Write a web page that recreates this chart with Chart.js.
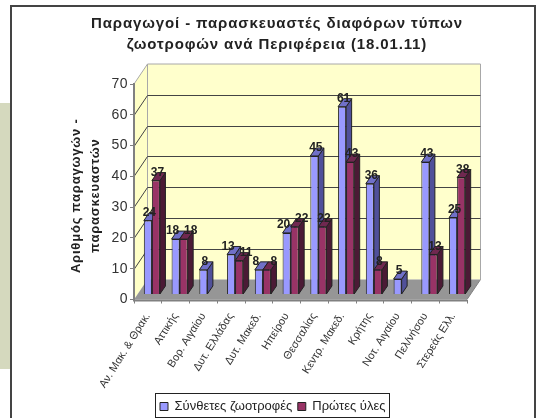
<!DOCTYPE html>
<html><head><meta charset="utf-8">
<style>
html,body{margin:0;padding:0;background:#fff;overflow:hidden}
#olive{position:absolute;left:0;top:103px;width:10px;height:266px;background:#D5D9BE}
#frame{position:absolute;left:10px;top:5px;width:522px;height:420px;border:2px solid #444;box-sizing:content-box}
#wrap{position:absolute;left:0;top:0;width:536px;height:418px}
</style>
<script src="https://cdn.jsdelivr.net/npm/chart.js@4"></script>
</head><body>
<div id="olive"></div><div id="frame"></div>
<div id="wrap"><canvas id="c" width="536" height="418"></canvas></div>
<script>
const categories=["Αν. Μακ. & Θρακ.","Αττικής","Βορ. Αιγαίου","Δυτ. Ελλάδας","Δυτ. Μακεδ.","Ηπείρου","Θεσσαλίας","Κεντρ. Μακεδ.","Κρήτης","Νοτ. Αιγαίου","Πελ/νήσου","Στερεάς Ελλ."];
const compound=[24,18,8,13,8,20,45,61,36,5,43,25];
const rawMaterials=[37,18,null,11,8,22,22,43,8,null,13,38];
const seriesNames=["Σύνθετες ζωοτροφές","Πρώτες ύλες"];
const titleLines=["Παραγωγοί - παρασκευαστές διαφόρων τύπων","ζωοτροφών ανά Περιφέρεια (18.01.11)"];
const axisTitleLines=["Αριθμός παραγωγών -","παρασκευαστών"];
const FONT='"Liberation Sans", Arial, sans-serif';
const WALL={dx:13.5,dy:-20}, BAR_SHIFT={dx:4,dy:-5}, BAR_DEPTH={dx:5.5,dy:-8};
const FACES=[{side:'#50509A',top:'#7070C8'},{side:'#4B1A35',top:'#702850'}];
function poly(ctx,pts,fill,stroke,lw){ctx.beginPath();pts.forEach((p,i)=>i?ctx.lineTo(p[0],p[1]):ctx.moveTo(p[0],p[1]));ctx.closePath();
 if(fill){ctx.fillStyle=fill;ctx.fill();} if(stroke){ctx.strokeStyle=stroke;ctx.lineWidth=lw||1;ctx.stroke();}}
function spaced(chart,obj,method,ls,tx,ty){
 const orig=obj[method];
 obj[method]=function(){const c=chart.ctx;c.save();c.letterSpacing=ls+'px';c.translate(tx||0,ty||0);orig.apply(this,arguments);c.restore();};
}
function faces(chart,idx){
 const ctx=chart.ctx,f=FACES[idx],d=BAR_DEPTH;
 chart.getDatasetMeta(idx).data.forEach((b,i)=>{
  const v=chart.data.datasets[idx].data[i]; if(v==null) return;
  const l=b.x-b.width/2,r=b.x+b.width/2;
  poly(ctx,[[r,b.y],[r+d.dx,b.y+d.dy],[r+d.dx,b.base+d.dy],[r,b.base]],f.side,'#222',1);
  poly(ctx,[[l,b.y],[l+d.dx,b.y+d.dy],[r+d.dx,b.y+d.dy],[r,b.y]],f.top,'#222',1);
 });
}
const scene={id:'scene',
 beforeLayout(chart){
  if(!chart.$w){chart.legend.afterFit=function(){this.height=26;};}
 },
 afterLayout(chart){
  chart.titleBlock.left=0;chart.titleBlock.right=554;
  chart.legend.left=154.5;chart.legend.right=544;chart.legend.top=394.5;chart.legend.bottom=420.5;
  if(!chart.$w){chart.$w=true;
   spaced(chart,chart.titleBlock,'draw',0.87);
   spaced(chart,chart.scales.y,'drawTitle',0.8,0,4);
   spaced(chart,chart.scales.y,'drawLabels',0.5);
  }
 },
 beforeDatasetsDraw(chart){
  const {ctx,chartArea:a,scales:{y}}=chart,dx=WALL.dx,dy=WALL.dy;
  ctx.save();
  poly(ctx,[[a.left,a.top],[a.left+dx,a.top+dy],[a.left+dx,a.bottom+dy],[a.left,a.bottom]],'#FFFFC6');
  poly(ctx,[[a.left+dx,a.top+dy],[a.right+dx,a.top+dy],[a.right+dx,a.bottom+dy],[a.left+dx,a.bottom+dy]],'#FFFFCC');
  poly(ctx,[[a.left,a.bottom],[a.left+dx,a.bottom+dy],[a.right+dx,a.bottom+dy],[a.right,a.bottom]],'#969696');
  ctx.strokeStyle='#A8A8A8';ctx.lineWidth=1;ctx.beginPath();
  ctx.moveTo(a.left,a.top);ctx.lineTo(a.left+dx,a.top+dy);ctx.lineTo(a.right+dx,a.top+dy);ctx.lineTo(a.right+dx,a.bottom+dy);
  ctx.moveTo(a.left+dx,a.top+dy);ctx.lineTo(a.left+dx,a.bottom+dy);ctx.stroke();
  y.ticks.forEach(t=>{ if(t.value===0||t.value===y.max) return; const py=Math.round(y.getPixelForValue(t.value))+.5;
   ctx.strokeStyle='#444';ctx.lineWidth=1;ctx.beginPath();ctx.moveTo(a.left,py);ctx.lineTo(a.left+dx,py+dy);ctx.lineTo(a.right+dx,py+dy);ctx.stroke();});
  ctx.restore();
  ctx.save();ctx.translate(BAR_SHIFT.dx,BAR_SHIFT.dy);
 },
 beforeDatasetDraw(chart,args){
  if(args.index===1) return false;
  faces(chart,0);
 },
 afterDatasetDraw(chart,args){
  if(args.index!==0) return;
  faces(chart,1);
  chart.getDatasetMeta(1).data.forEach((b,i)=>{ if(chart.data.datasets[1].data[i]!=null) b.draw(chart.ctx); });
 },
 afterDatasetsDraw(chart){
  const ctx=chart.ctx;
  ctx.font='bold 12px '+FONT;ctx.fillStyle='#222';ctx.textAlign='center';ctx.textBaseline='middle';
  [0,1].forEach(k=>{
   chart.getDatasetMeta(k).data.forEach((b,i)=>{
    const v=chart.data.datasets[k].data[i]; if(v==null) return;
    const o=chart.data.datasets[1-k].data[i];
    const close=o!=null&&Math.abs(o-v)<=2;
    const sh=close?(k===0?-3:7):1.5;
    ctx.fillText(String(v),b.x+sh,b.y-8);
   });
  });
  ctx.restore();
  ctx.save();
  const a=chart.chartArea;
  ctx.strokeStyle='#808080';ctx.lineWidth=2;ctx.beginPath();ctx.moveTo(a.left,a.top-1);ctx.lineTo(a.left,a.bottom+1);ctx.lineTo(a.right,a.bottom+1);ctx.stroke();
  ctx.lineWidth=1;ctx.beginPath();ctx.moveTo(a.right,a.bottom);ctx.lineTo(a.right+WALL.dx,a.bottom+WALL.dy);ctx.stroke();
  ctx.restore();
 },
 afterDraw(chart){
  const ctx=chart.ctx;
  ctx.save();ctx.strokeStyle='#222';ctx.lineWidth=1;
  ctx.strokeRect(155.5,393.5,234,24);
  ctx.restore();
 }
};
new Chart(document.getElementById('c'),{
 type:'bar',
 data:{labels:categories,datasets:[
  {label:seriesNames[0],data:compound,backgroundColor:'#9999FF',borderColor:'#222',borderWidth:1,clip:false},
  {label:seriesNames[1],data:rawMaterials,backgroundColor:'#993366',borderColor:'#222',borderWidth:1,clip:false}
 ]},
 plugins:[scene],
 options:{responsive:false,animation:false,
  layout:{padding:{left:67,right:69,top:13,bottom:0}},
  datasets:{bar:{barPercentage:1,categoryPercentage:0.58}},
  plugins:{
   tooltip:{enabled:false},
   title:{display:true,text:titleLines,color:'#222',font:{family:FONT,size:15,weight:'bold',lineHeight:1.4},padding:{top:0,bottom:29}},
   legend:{display:true,position:'bottom',align:'start',labels:{color:'#222',font:{family:FONT,size:13},boxWidth:8,boxHeight:8,padding:5.5}}
  },
  scales:{
   x:{grid:{display:true,drawOnChartArea:false,drawTicks:true,tickLength:4,color:'#808080',offset:true},border:{display:false},
      ticks:{color:'#333',font:{family:FONT,size:11},autoSkip:false,minRotation:58,maxRotation:58,padding:7},
      afterFit(s){s.height=90;}},
   y:{min:0,max:70,grid:{display:true,drawOnChartArea:false,tickLength:4,color:'#808080'},border:{display:false},
      ticks:{stepSize:10,color:'#333',font:{family:FONT,size:14},padding:2},
      title:{display:true,text:axisTitleLines,color:'#222',font:{family:FONT,size:13,weight:'bold',lineHeight:1.45},padding:0},
      afterFit(s){s.width=67;}}
  }
 }
});
</script>
</body></html>
